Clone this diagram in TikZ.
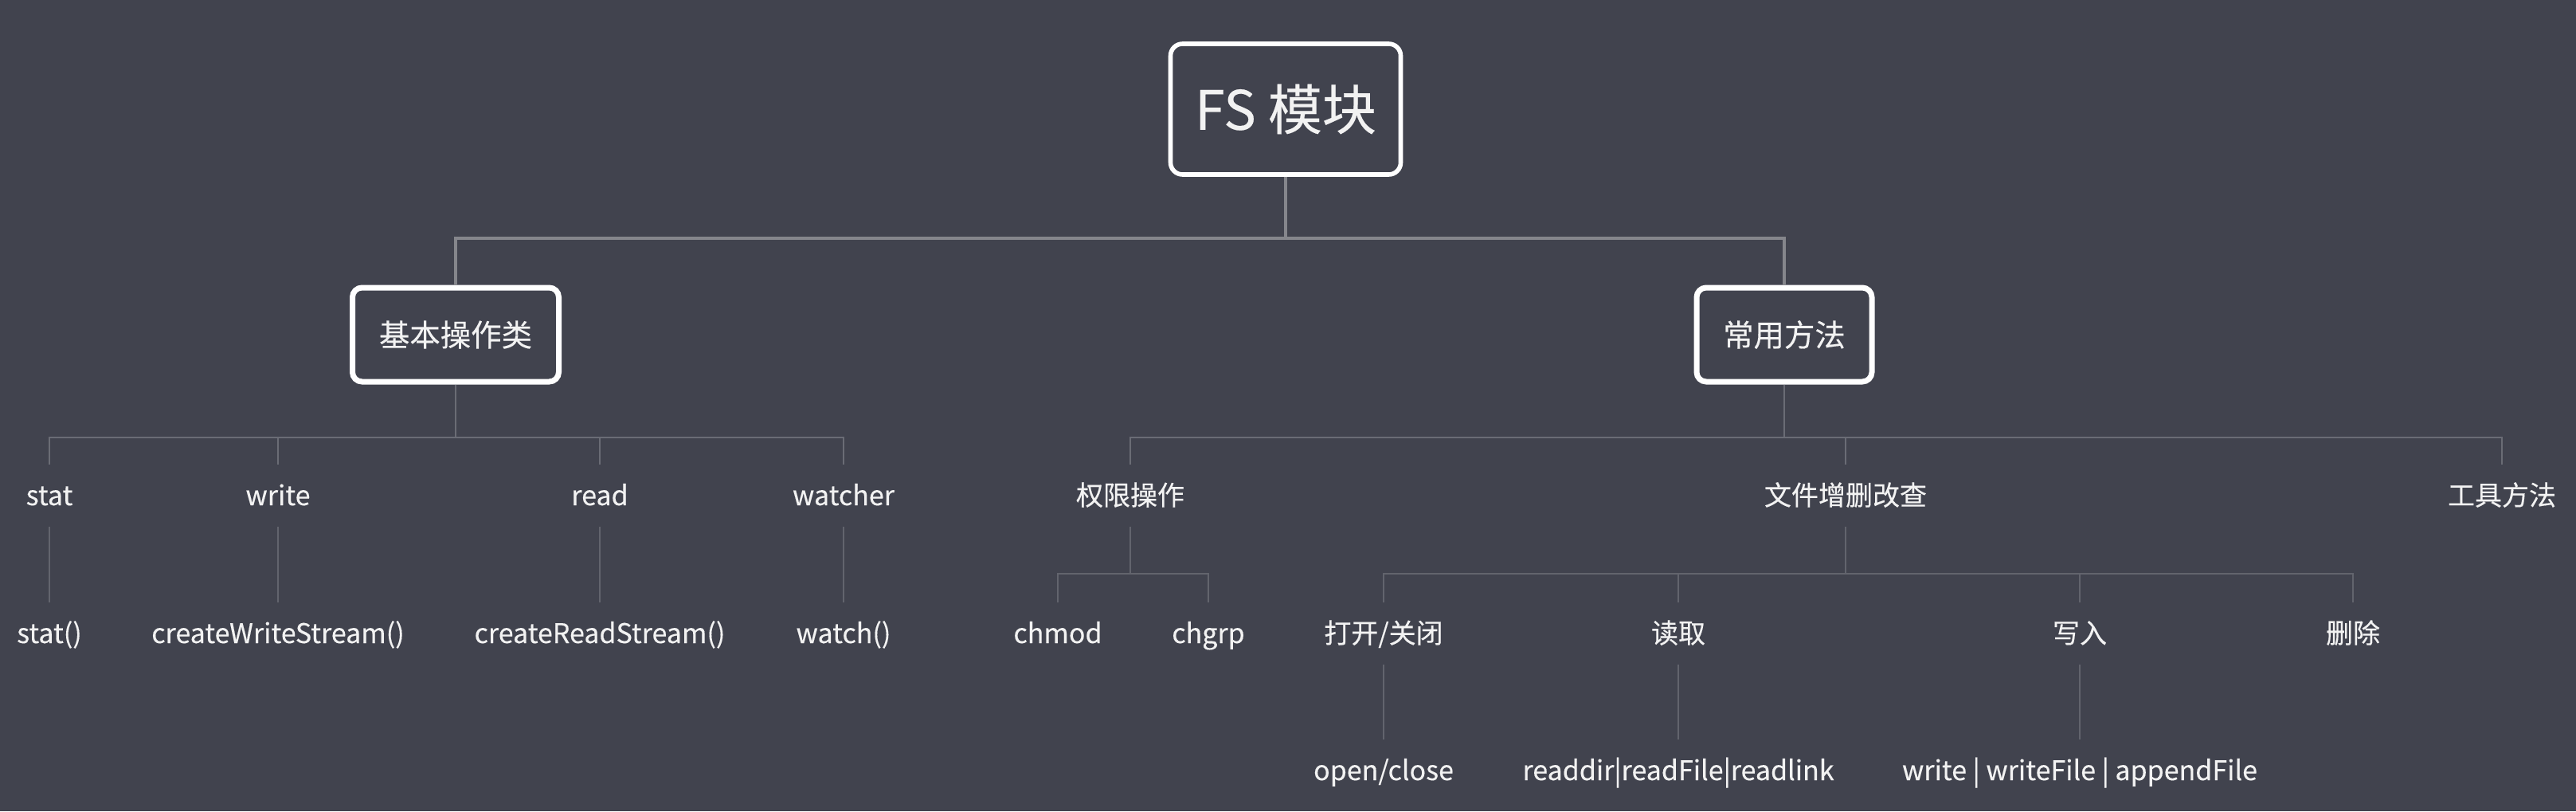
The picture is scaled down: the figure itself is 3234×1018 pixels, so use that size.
\documentclass[tikz,border=0pt]{standalone}
\usepackage{fontspec}
\setmainfont{Noto Sans CJK SC}[FakeBold=0.3]
\definecolor{bg}{HTML}{41434E}
\definecolor{txt}{HTML}{F2F2F2}
\definecolor{lineA}{HTML}{85868C}
\definecolor{lineB}{HTML}{6A6C75}
\definecolor{lineC}{HTML}{62646D}
\begin{document}
\begin{tikzpicture}[x=0.25pt,y=-0.25pt,
  rootbox/.style={draw=white, line width=1.4pt, rounded corners=3.75pt,
    minimum width=72.25pt, minimum height=41pt, inner sep=0pt, text=txt,
    font=\fontsize{17}{20}\selectfont},
  catbox/.style={draw=white, line width=1.75pt, rounded corners=3pt,
    minimum height=29.5pt, inner sep=0pt, text=txt,
    font=\fontsize{9.6}{12}\selectfont},
  leaf/.style={inner sep=0pt, minimum height=19pt, text height=0.8em,
    text depth=0.2em, text=txt, font=\fontsize{8.5}{10}\selectfont},
  connA/.style={draw=lineA, line width=1pt},
  connB/.style={draw=lineB, line width=0.7pt},
  connC/.style={draw=lineC, line width=0.5pt}]
\fill[bg] (0,0) rectangle (3234,1018);
\useasboundingbox (0,0) rectangle (3234,1018);

% level 0 and 1
\node[rootbox] (fs) at (1614,137) {FS 模块};
\node[catbox, minimum width=64.75pt] (basic) at (572,420) {基本操作类};
\node[catbox, minimum width=55pt] (common) at (2240,420) {常用方法};

\coordinate (j0) at (1614,299);
\draw[connA] (fs.south) -- (j0);
\draw[connA] (basic.north) |- (j0) -| (common.north);

% basic branch
\node[leaf] (stat) at (62,622) {stat};
\node[leaf] (write) at (349,622) {write};
\node[leaf] (read) at (753,622) {read};
\node[leaf] (watcher) at (1059,622) {watcher};
\node[leaf] (statf) at (62,795) {stat()};
\node[leaf] (cws) at (349,795) {createWriteStream()};
\node[leaf] (crs) at (753,795) {createReadStream()};
\node[leaf] (watch) at (1059,795) {watch()};

\coordinate (j1) at (572,549);
\draw[connB] (basic.south) -- (j1);
\draw[connB] (stat.north) |- (j1) -| (watcher.north);
\draw[connB] (write.north) -- (write.north |- j1);
\draw[connB] (read.north) -- (read.north |- j1);
\draw[connC] (stat.south) -- (statf.north);
\draw[connC] (write.south) -- (cws.north);
\draw[connC] (read.south) -- (crs.north);
\draw[connC] (watcher.south) -- (watch.north);

% common branch
\node[leaf] (perm) at (1419,622) {权限操作};
\node[leaf] (crud) at (2317,622) {文件增删改查};
\node[leaf] (tool) at (3141,622) {工具方法};

\coordinate (j2) at (2240,549);
\draw[connB] (common.south) -- (j2);
\draw[connB] (perm.north) |- (j2) -| (tool.north);
\draw[connB] (crud.north) -- (crud.north |- j2);

\node[leaf] (chmod) at (1328,795) {chmod};
\node[leaf] (chgrp) at (1517,795) {chgrp};
\coordinate (j3) at (1419,720);
\draw[connC] (perm.south) -- (j3);
\draw[connC] (chmod.north) |- (j3) -| (chgrp.north);

\node[leaf] (open) at (1737,795) {打开/关闭};
\node[leaf] (rd) at (2107,795) {读取};
\node[leaf] (wr) at (2611,795) {写入};
\node[leaf] (del) at (2954,795) {删除};
\coordinate (j4) at (2317,720);
\draw[connC] (crud.south) -- (j4);
\draw[connC] (open.north) |- (j4) -| (del.north);
\draw[connC] (rd.north) -- (rd.north |- j4);
\draw[connC] (wr.north) -- (wr.north |- j4);

\node[leaf] (openf) at (1737,967) {open/close};
\node[leaf] (rdf) at (2107,967) {readdir|readFile|readlink};
\node[leaf] (wrf) at (2611,967) {write | writeFile | appendFile};
\draw[connC] (open.south) -- (openf.north);
\draw[connC] (rd.south) -- (rdf.north);
\draw[connC] (wr.south) -- (wrf.north);
\end{tikzpicture}
\end{document}
